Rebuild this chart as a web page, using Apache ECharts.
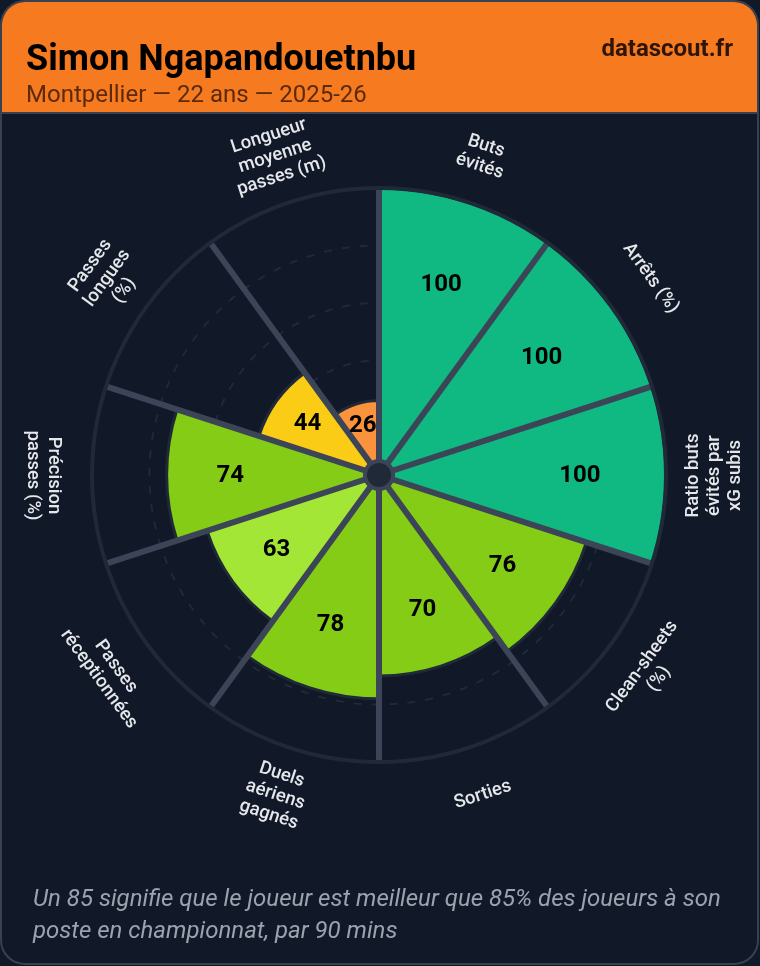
<!DOCTYPE html>
<html>
<head>
<meta charset="utf-8">
<style>
html, body { margin: 0; padding: 0; background: #111827; }
#chart { width: 760px; height: 966px; }
</style>
<script src="https://cdn.jsdelivr.net/npm/echarts@6/dist/echarts.min.js"></script>
</head>
<body>
<div id="chart"></div>
<script>
var player_name = 'Simon Ngapandouetnbu'
var player_info = 'Montpellier — 22 ans — 2025-26'
var brand = 'datascout.fr'
var note_lines = [
    'Un 85 signifie que le joueur est meilleur que 85% des joueurs à son',
    'poste en championnat, par 90 mins'
]
var categories = [
    'Buts\névités',
    'Arrêts (%)',
    'Ratio buts\névités par\nxG subis',
    'Clean-sheets\n(%)',
    'Sorties',
    'Duels\naériens\ngagnés',
    'Passes\nréceptionnées',
    'Précision\npasses (%)',
    'Passes\nlongues\n(%)',
    'Longueur\nmoyenne\npasses (m)'
]
var percentiles = [100, 100, 100, 76, 70, 78, 63, 74, 44, 26]

function bar_color(v) {
    if (v >= 90) return '#10b981'
    if (v >= 70) return '#84cc16'
    if (v >= 50) return '#a3e635'
    if (v >= 30) return '#facc15'
    return '#fb923c'
}

// labels turn with the wheel but stay readable on the lower half
function label_rotation(deg) {
    var r = deg < 90 ? deg : (deg <= 270 ? deg - 180 : deg - 360)
    return -r * Math.PI / 180
}

var cx = 379
var cy = 475
var font = 'Roboto'

var option = {
    backgroundColor: '#111827',
    animation: false,
    polar: { center: [cx, cy], radius: [0, 287] },
    angleAxis: {
        type: 'category',
        data: categories,
        startAngle: 90,
        z: 4,
        axisTick: { show: false },
        axisLabel: { show: false },
        axisLine: { show: true, lineStyle: { color: '#1f2937', width: 4 } },
        splitLine: { show: true, lineStyle: { color: '#3b4557', width: 6 } }
    },
    radiusAxis: {
        min: 0,
        max: 100,
        interval: 20,
        z: 1,
        axisLine: { show: false },
        axisTick: { show: false },
        axisLabel: { show: false },
        splitLine: { show: true, lineStyle: { color: '#1f2937', width: 2, type: [8, 10] } }
    },
    series: [
        {
            type: 'bar',
            coordinateSystem: 'polar',
            barCategoryGap: 0,
            z: 2,
            data: percentiles,
            itemStyle: {
                color: function (p) { return bar_color(p.value) },
                borderColor: '#1f2937',
                borderWidth: 3
            }
        },
        {
            // category names around the wheel
            type: 'custom',
            coordinateSystem: 'polar',
            z: 6,
            silent: true,
            data: categories.map(function (c, i) { return [117, i] }),
            renderItem: function (params, api) {
                var i = api.value(1)
                var pt = api.coord([api.value(0), i])
                return {
                    type: 'text',
                    x: pt[0],
                    y: pt[1] + 0.5,
                    rotation: label_rotation((i + 0.5) * 36),
                    style: {
                        text: categories[i],
                        fill: '#e5e7eb',
                        fontFamily: font,
                        fontWeight: 500,
                        fontSize: 18.5,
                        lineHeight: 21,
                        align: 'center',
                        verticalAlign: 'middle'
                    }
                }
            }
        },
        {
            // percentile values inside the bars
            type: 'custom',
            coordinateSystem: 'polar',
            z: 7,
            silent: true,
            data: percentiles.map(function (v, i) { return [v * 0.7, i, v] }),
            renderItem: function (params, api) {
                var pt = api.coord([api.value(0), api.value(1)])
                return {
                    type: 'text',
                    x: pt[0],
                    y: pt[1] + 1,
                    style: {
                        text: String(api.value(2)),
                        fill: '#000000',
                        fontFamily: font,
                        fontWeight: 700,
                        fontSize: 24,
                        align: 'center',
                        verticalAlign: 'middle'
                    }
                }
            }
        }
    ],
    graphic: [
        {
            type: 'rect',
            z: -10,
            shape: { x: 1, y: 1, width: 757, height: 963, r: 24 },
            style: { fill: '#111827', stroke: '#374151', lineWidth: 2 }
        },
        {
            type: 'rect',
            z: -9,
            shape: { x: 2, y: 2, width: 755, height: 110, r: [23, 23, 0, 0] },
            style: { fill: '#f67a20' }
        },
        {
            type: 'rect',
            z: -9,
            shape: { x: 2, y: 112, width: 755, height: 2 },
            style: { fill: '#374151' }
        },
        {
            type: 'text',
            z: 10,
            x: 26,
            y: 61,
            style: { text: player_name, fill: '#000000', fontFamily: font, fontWeight: 700, fontSize: 36, verticalAlign: 'middle' }
        },
        {
            type: 'text',
            z: 10,
            x: 26,
            y: 96,
            style: { text: player_info, fill: '#5c2a0b', fontFamily: font, fontSize: 24, verticalAlign: 'middle' }
        },
        {
            type: 'text',
            z: 10,
            x: 733,
            y: 50,
            style: { text: brand, fill: '#2e1507', fontFamily: font, fontWeight: 700, fontSize: 24, align: 'right', verticalAlign: 'middle' }
        },
        {
            type: 'circle',
            z: 10,
            shape: { cx: cx, cy: cy, r: 14 },
            style: { fill: '#1f2937', stroke: '#3b4557', lineWidth: 4 }
        },
        {
            type: 'text',
            z: 10,
            x: 33,
            y: 900,
            style: { text: note_lines[0], fill: '#9ca3af', fontFamily: font, fontStyle: 'italic', fontSize: 24, verticalAlign: 'middle' }
        },
        {
            type: 'text',
            z: 10,
            x: 33,
            y: 932,
            style: { text: note_lines[1], fill: '#9ca3af', fontFamily: font, fontStyle: 'italic', fontSize: 24, verticalAlign: 'middle' }
        }
    ]
}

var myChart = echarts.init(document.getElementById('chart'))
myChart.setOption(option)
</script>
</body>
</html>
